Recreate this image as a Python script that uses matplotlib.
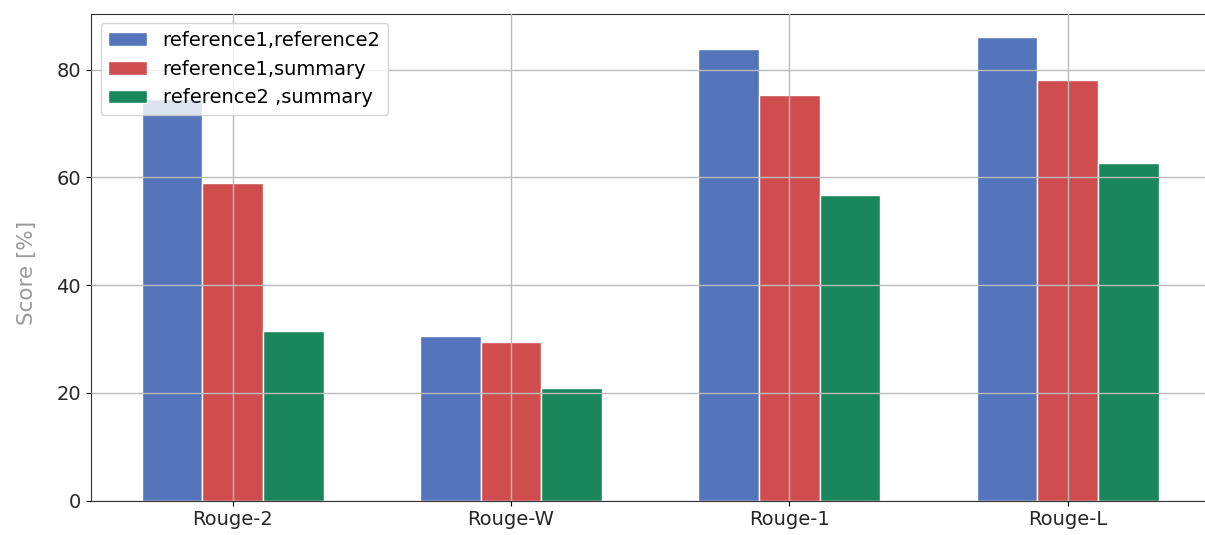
import numpy as np
import matplotlib.pyplot as plt

metrics = ['Rouge-2', 'Rouge-W', 'Rouge-1', 'Rouge-L']
ref1_ref2 = [74.6, 30.5, 83.9, 86.1]
ref1_summary = [59.0, 29.4, 75.3, 78.0]
ref2_summary = [31.4, 20.8, 56.7, 62.7]
labels = ['reference1,reference2', 'reference1,summary', 'reference2 ,summary']
colors = ['#5475BB', '#CF4D4F', '#19875B']

x = np.arange(len(metrics))
w = 0.218

fig = plt.figure(figsize=(12.05, 5.35), dpi=100)
# the original is cropped on the right, so the axes run a bit past the figure edge
ax = fig.add_axes([90.8/1205, 34.5/535, 1118.7/1205, 487/535])

for i, vals in enumerate([ref1_ref2, ref1_summary, ref2_summary]):
    ax.bar(x + (i - 1) * w, vals, w, color=colors[i], edgecolor='white',
           linewidth=1, label=labels[i])

ax.set_xticks(x)
ax.set_xticklabels(metrics, fontsize=14, color='#262626')
ax.tick_params(axis='y', labelsize=14, labelcolor='#262626')
ax.set_ylabel('Score [%]', fontsize=15.5, color='#999999', labelpad=14, y=0.467)
ax.grid(True, color='#bbbbbb', linewidth=1)
ax.set_axisbelow(False)
for s in ax.spines.values():
    s.set_color('#333333')
ax.legend(loc='upper left', fontsize=14)

plt.savefig('out.png')
